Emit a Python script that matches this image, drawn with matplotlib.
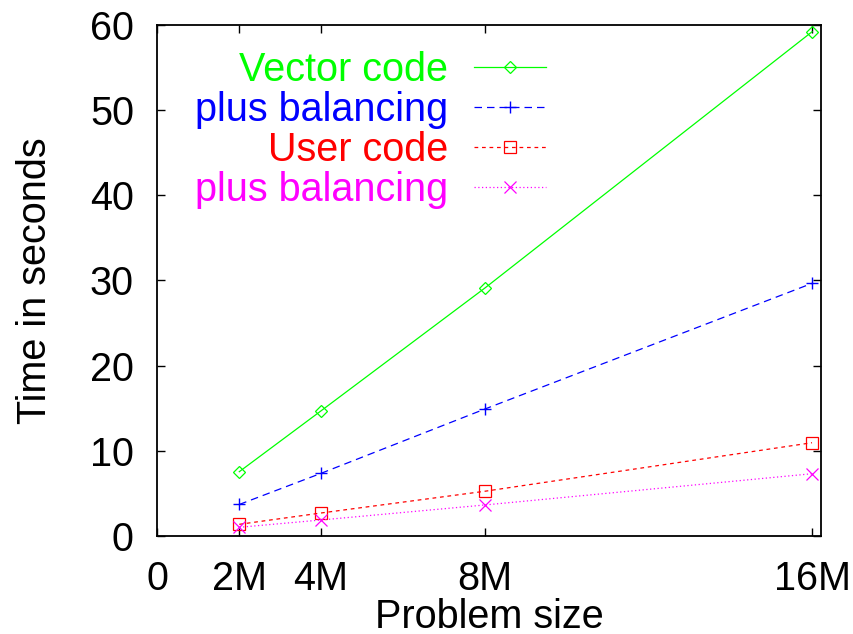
import matplotlib
matplotlib.use("Agg")
import matplotlib.pyplot as plt

plt.rcParams['font.family'] = ['Liberation Sans', 'DejaVu Sans']

# problem sizes in millions (2^21, 2^22, 2^23, 2^24)
sizes = [2.097152, 4.194304, 8.388608, 16.777216]
size_labels = ["0", "2M", "4M", "8M", "16M"]
size_ticks = [0, 2.097152, 4.194304, 8.388608, 16.777216]

vector_code = [7.55, 14.7, 29.1, 59.2]
vector_bal = [3.7, 7.36, 14.9, 29.66]
user_code = [1.37, 2.7, 5.25, 10.95]
user_bal = [1.02, 1.88, 3.64, 7.31]

fs = 28.5

fig = plt.figure(figsize=(8.54, 6.34), dpi=100)
ax = fig.add_axes([0.1844, 0.1546, 0.7766, 0.806])

ax.plot(sizes, vector_code, color="#00ff00", lw=0.9, marker="D", ms=6,
        mfc="none", mew=0.9, label="Vector code")
ax.plot(sizes, vector_bal, color="#0000ff", lw=0.9, ls=(0, (6, 4)), marker="+",
        ms=9, mew=1.0, label="plus balancing")
ax.plot(sizes, user_code, color="#ff0000", lw=0.9, ls=(0, (3, 3)), marker="s",
        ms=8, mfc="none", mew=0.9, label="User code")
ax.plot(sizes, user_bal, color="#ff00ff", lw=0.9, ls=(0, (1, 2)), marker="x",
        ms=8, mew=0.9, label="plus balancing")

ax.set_xlim(0, 17)
ax.set_ylim(0, 60)
ax.set_xticks(size_ticks)
ax.set_xticklabels(size_labels)
ax.set_yticks(range(0, 61, 10))
ax.tick_params(direction="in", length=6, width=1, top=True, right=True,
               labelsize=fs, pad=17)
for s in ax.spines.values():
    s.set_linewidth(1.3)

ax.set_xlabel("Problem size", fontsize=fs, labelpad=0)
ax.set_ylabel("Time in seconds", fontsize=fs, labelpad=26)

ax.legend(loc="upper right", bbox_to_anchor=(0.586, 0.95), frameon=False,
          markerfirst=False, labelcolor="linecolor", fontsize=fs,
          handlelength=1.82, handletextpad=0.65, labelspacing=0.055,
          numpoints=1, borderaxespad=0, borderpad=0)

fig.savefig("out.png", dpi=100)
